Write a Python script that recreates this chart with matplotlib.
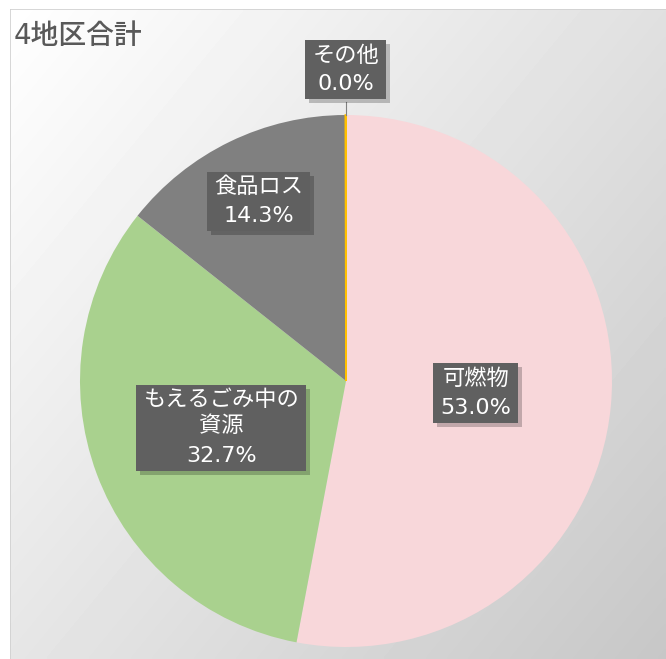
import numpy as np
import matplotlib.pyplot as plt
from matplotlib.patches import Rectangle
from matplotlib.transforms import Bbox

plt.rcParams['font.family'] = ['DejaVu Sans', 'Noto Sans CJK JP']

title = '4地区合計'
labels = ['可燃物', 'もえるごみ中の\n資源', '食品ロス', 'その他']
values = [53.0, 32.7, 14.3, 0.04]
shown = ['53.0%', '32.7%', '14.3%', '0.0%']
colors = ['#F8D7DA', '#A9D18E', '#808080', '#FFC000']
label_r = [0.49, 0.50, 0.75, 1.17]

fig = plt.figure(figsize=(6.66, 6.59), dpi=100)

# gradient background
bg = fig.add_axes([10 / 666, 0, 1 - 10 / 666, 650 / 659])
yy, xx = np.mgrid[0:1:200j, 0:1:200j]
grad = 1.0 - 0.22 * (0.55 * xx + 0.45 * yy)
bg.imshow(grad, cmap='gray', vmin=0, vmax=1, aspect='auto',
          extent=[0, 1, 1, 0], interpolation='bilinear')
bg.set_xlim(0, 1)
bg.set_ylim(1, 0)
bg.axis('off')
bg.plot([0, 0, 1], [1, 0, 0], color='#d0d0d0', lw=1.2)

fig.text(14 / 666, 1 - 36 / 659, title, fontsize=20, color='#595959',
         ha='left', va='center', fontweight='medium')

ax = fig.add_axes([80 / 666, 12 / 659, 532 / 666, 532 / 659])
wedges, _ = ax.pie(values, colors=colors, startangle=90, counterclock=False,
                   wedgeprops=dict(linewidth=0))
wedges[3].set_edgecolor('#FFC000')
wedges[3].set_linewidth(1.2)
ax.set_xlim(-1, 1)
ax.set_ylim(-1, 1)
ax.set_aspect('equal')
ax.axis('off')

fs = 16
L = fs * 1.3  # line height in points
pairs = []
for w, lab, txt, r in zip(wedges, labels, shown, label_r):
    ang = np.deg2rad((w.theta1 + w.theta2) / 2)
    x, y = r * np.cos(ang), r * np.sin(ang)
    n = lab.count('\n') + 2
    t1 = ax.annotate(lab, (x, y), xytext=(0, L / 2), textcoords='offset points',
                     ha='center', va='center', fontsize=fs, color='white',
                     linespacing=1.3, zorder=5, annotation_clip=False)
    t2 = ax.annotate(txt, (x, y), xytext=(0, -(n - 1) * L / 2),
                     textcoords='offset points', ha='center', va='center',
                     fontsize=fs, color='white', zorder=5, annotation_clip=False)
    pairs.append((t1, t2))

# leader line for the tiny slice
ax.plot([0, 0], [1.0, 1.05], color='#808080', lw=0.8, clip_on=False)

# label boxes sized from the rendered text
fig.canvas.draw()
rend = fig.canvas.get_renderer()
for t1, t2 in pairs:
    bb = Bbox.union([t1.get_window_extent(rend), t2.get_window_extent(rend)])
    px, py = 7, 5
    x0, y0 = bb.x0 - px, bb.y0 - py
    wd, ht = bb.width + 2 * px, bb.height + 2 * py
    ax.add_patch(Rectangle((x0 + 4, y0 - 4), wd, ht, transform=None,
                           fc='#000000', alpha=0.22, ec='none', zorder=3,
                           clip_on=False))
    ax.add_patch(Rectangle((x0, y0), wd, ht, transform=None,
                           fc='#606060', ec='none', zorder=4, clip_on=False))

fig.savefig('out.png', dpi=100)
